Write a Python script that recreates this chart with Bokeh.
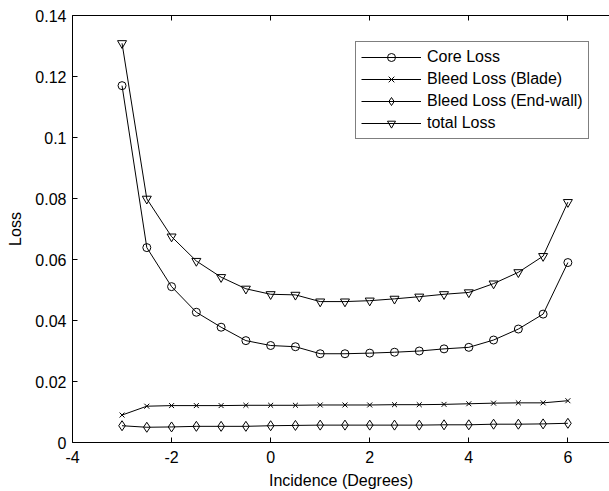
from bokeh.plotting import figure
from bokeh.models import LinearAxis, FixedTicker, Legend, LegendItem, Range1d
from bokeh.embed import file_html
from bokeh.resources import INLINE

incidence = [-3, -2.5, -2, -1.5, -1, -0.5, 0, 0.5, 1, 1.5, 2, 2.5, 3, 3.5, 4, 4.5, 5, 5.5, 6]
core_loss = [0.1170, 0.0639, 0.0511, 0.0427, 0.0378, 0.0334, 0.0318, 0.0314, 0.0291, 0.0291,
             0.0293, 0.0296, 0.0300, 0.0307, 0.0312, 0.0336, 0.0372, 0.0421, 0.0590]
bleed_blade = [0.0090, 0.0119, 0.0121, 0.0121, 0.0121, 0.0122, 0.0122, 0.0122, 0.0123, 0.0123,
               0.0123, 0.0124, 0.0124, 0.0125, 0.0127, 0.0129, 0.0130, 0.0130, 0.0137]
bleed_endwall = [0.0055, 0.0050, 0.0051, 0.0053, 0.0053, 0.0053, 0.0055, 0.0056, 0.0057, 0.0057,
                 0.0057, 0.0057, 0.0057, 0.0058, 0.0058, 0.0060, 0.0060, 0.0061, 0.0063]
total_loss = [0.1309, 0.0799, 0.0675, 0.0595, 0.0542, 0.0504, 0.0486, 0.0484, 0.0462, 0.0462,
              0.0465, 0.0471, 0.0478, 0.0486, 0.0492, 0.0521, 0.0558, 0.0611, 0.0788]

series_names = ["Core Loss", "Bleed Loss (Blade)", "Bleed Loss (End-wall)", "total Loss"]

x_ticks = [-4, -2, 0, 2, 4, 6]
x_tick_labels = ["-4", "-2", "0", "2", "4", "6"]
y_ticks = [0, 0.02, 0.04, 0.06, 0.08, 0.1, 0.12, 0.14]
y_tick_labels = ["0", "0.02", "0.04", "0.06", "0.08", "0.1", "0.12", "0.14"]

FONT = "Liberation Sans"
FS = "16px"

p = figure(width=609, height=491, output_backend="svg", toolbar_location=None,
           x_range=Range1d(-4, 6.84), y_range=Range1d(0, 0.14),
           min_border_left=72, min_border_right=0, min_border_top=15, min_border_bottom=48,
           x_axis_label="Incidence (Degrees)", y_axis_label="Loss")
p.outline_line_color = None
p.xgrid.visible = False
p.ygrid.visible = False
p.background_fill_color = "white"
p.border_fill_color = "white"

for ax, ticks, labels in ((p.xaxis[0], x_ticks, x_tick_labels), (p.yaxis[0], y_ticks, y_tick_labels)):
    ax.ticker = FixedTicker(ticks=ticks)
    ax.major_label_overrides = {t: l for t, l in zip(ticks, labels)}
    ax.major_tick_in = 5
    ax.major_tick_out = 0
    ax.minor_tick_line_color = None
    ax.axis_line_color = "black"
    ax.major_tick_line_color = "black"
    ax.major_label_text_font = FONT
    ax.major_label_text_font_size = FS
    ax.major_label_text_color = "black"
    ax.axis_label_text_font = FONT
    ax.axis_label_text_font_size = FS
    ax.axis_label_text_font_style = "normal"
    ax.axis_label_text_color = "black"

p.xaxis[0].major_label_standoff = 8
p.xaxis[0].axis_label_standoff = 6
p.yaxis[0].major_label_standoff = 6
p.yaxis[0].axis_label_standoff = 8

top = LinearAxis(ticker=FixedTicker(ticks=x_ticks), major_tick_in=5, major_tick_out=0,
                 minor_tick_line_color=None, major_label_text_font_size="1px",
                 major_label_text_color=None, major_label_standoff=0,
                 axis_line_color="black", major_tick_line_color="black")
p.add_layout(top, "above")

items = []
ser = [(core_loss, "circle", 8), (bleed_blade, "x", 7), (bleed_endwall, "diamond", 10), (total_loss, "inverted_triangle", 9)]
for (vals, marker, size), name in zip(ser, series_names):
    l = p.line(incidence, vals, line_color="black", line_width=1)
    s = p.scatter(incidence, vals, marker=marker, size=size, line_color="black",
                  fill_color=None, line_width=1)
    items.append(LegendItem(label=name, renderers=[l, s]))

legend = Legend(items=items, location=(283, 303), border_line_color="black", border_line_width=1,
                background_fill_color="white", background_fill_alpha=1.0,
                padding=5, spacing=2, glyph_height=20, glyph_width=60, label_height=20,
                label_standoff=6, label_text_font=FONT, label_text_font_size=FS,
                label_text_color="black", margin=0)
p.add_layout(legend, "center")

open("out.html", "w").write(file_html(p, INLINE))
